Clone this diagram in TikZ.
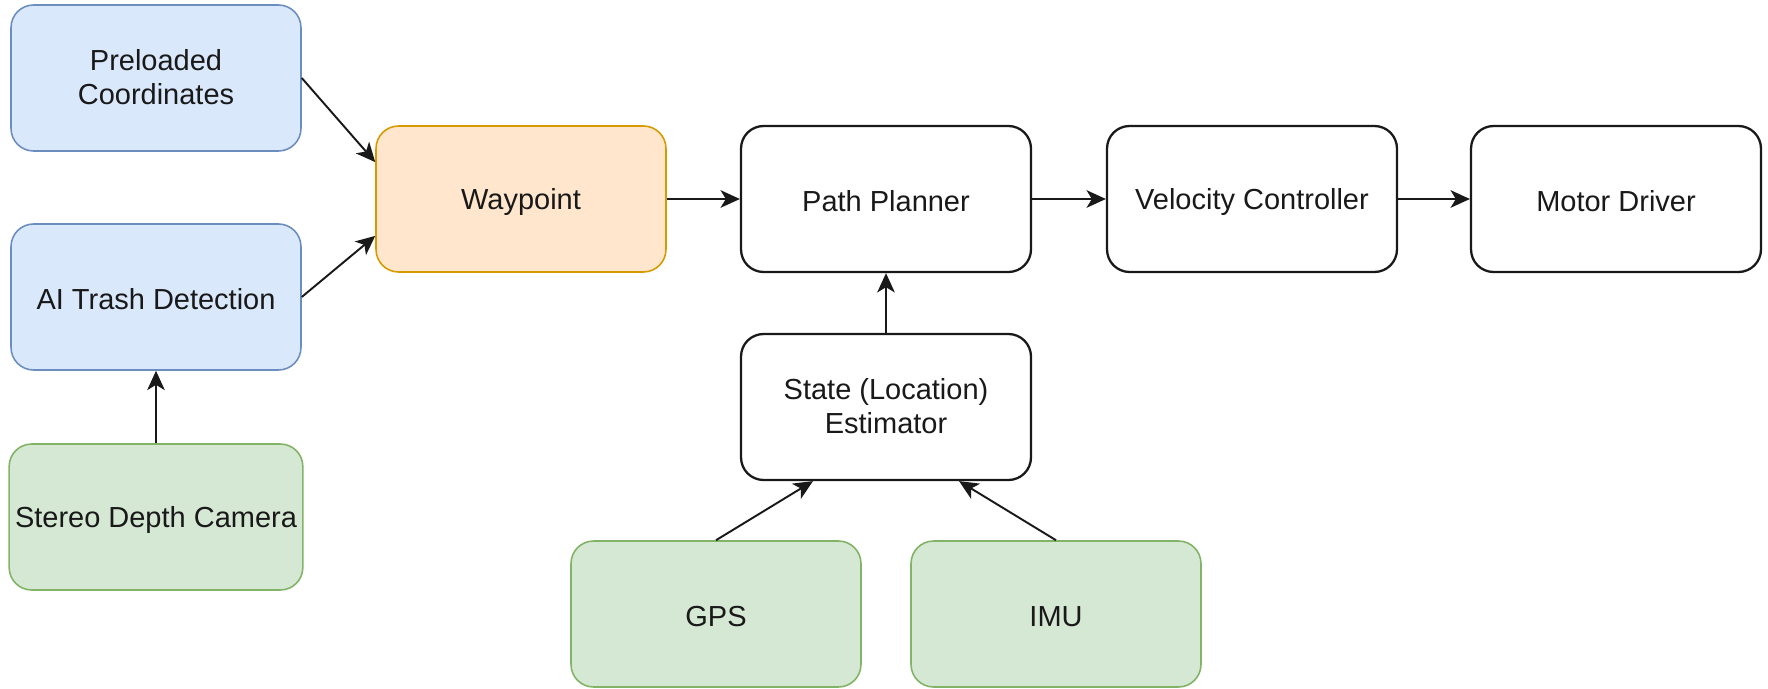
\documentclass[tikz,border=0pt]{standalone}
\usepackage{fontspec}
\setmainfont{Liberation Sans}
\usepackage{xcolor}
\usepackage{tikz}
\usetikzlibrary{arrows.meta,positioning,calc}

\definecolor{inputfill}{HTML}{DAE8FC}
\definecolor{inputdraw}{HTML}{6C8EBF}
\definecolor{goalfill}{HTML}{FFE6CC}
\definecolor{goaldraw}{HTML}{D79B00}
\definecolor{sensorfill}{HTML}{D5E8D4}
\definecolor{sensordraw}{HTML}{82B366}

\newcommand{\blockstrut}{\rule[-1pt]{0pt}{16pt}}

\tikzset{
    block/.style={rectangle, rounded corners=0.45cm, minimum width=5.8cm, minimum height=2.92cm,
        align=center, text=black!90, font=\fontsize{16.5}{19.5}\selectfont,
        execute at begin node=\blockstrut, execute at end node=\blockstrut},
    modblock/.style={block, draw=black!90, fill=white, line width=1.3pt},
    inblock/.style={block, draw=inputdraw, fill=inputfill, line width=0.9pt},
    goalblock/.style={block, draw=goaldraw, fill=goalfill, line width=0.9pt},
    sensblock/.style={block, draw=sensordraw, fill=sensorfill, line width=0.9pt},
    flow/.style={-{Stealth[length=11pt, width=10pt, inset=3pt]}, line width=1.1pt, black!90},
}

\begin{document}
\begin{tikzpicture}[x=0.02cm, y=-0.02cm]
    \useasboundingbox (0,0) rectangle (1768,689);

    % Inputs on the left
    \node[inblock] (preload) at (156,78) {Preloaded\\Coordinates};
    \node[inblock] (trash) at (156,297) {AI Trash Detection};
    \node[sensblock] (camera) at (156,517) {Stereo Depth Camera};

    % Main chain
    \node[goalblock] (waypoint) at (521,199) {Waypoint};
    \node[modblock] (planner) at (886,199) {Path Planner};
    \node[modblock] (velocity) at (1252,199) {Velocity Controller};
    \node[modblock] (motor) at (1616,199) {Motor Driver};

    % Localisation
    \node[modblock] (state) at (886,407) {State (Location)\\Estimator};
    \node[sensblock] (gps) at (716,614) {GPS};
    \node[sensblock] (imu) at (1056,614) {IMU};

    % Connections
    \draw[flow] (preload.east) -- ($(waypoint.north west)!0.25!(waypoint.south west)$);
    \draw[flow] (trash.east) -- ($(waypoint.north west)!0.75!(waypoint.south west)$);
    \draw[flow] (camera.north) -- (trash.south);
    \draw[flow] (waypoint.east) -- (planner.west);
    \draw[flow] (planner.east) -- (velocity.west);
    \draw[flow] (velocity.east) -- (motor.west);
    \draw[flow] (state.north) -- (planner.south);
    \draw[flow] (gps.north) -- ($(state.south west)!0.25!(state.south east)$);
    \draw[flow] (imu.north) -- ($(state.south west)!0.75!(state.south east)$);
\end{tikzpicture}
\end{document}
